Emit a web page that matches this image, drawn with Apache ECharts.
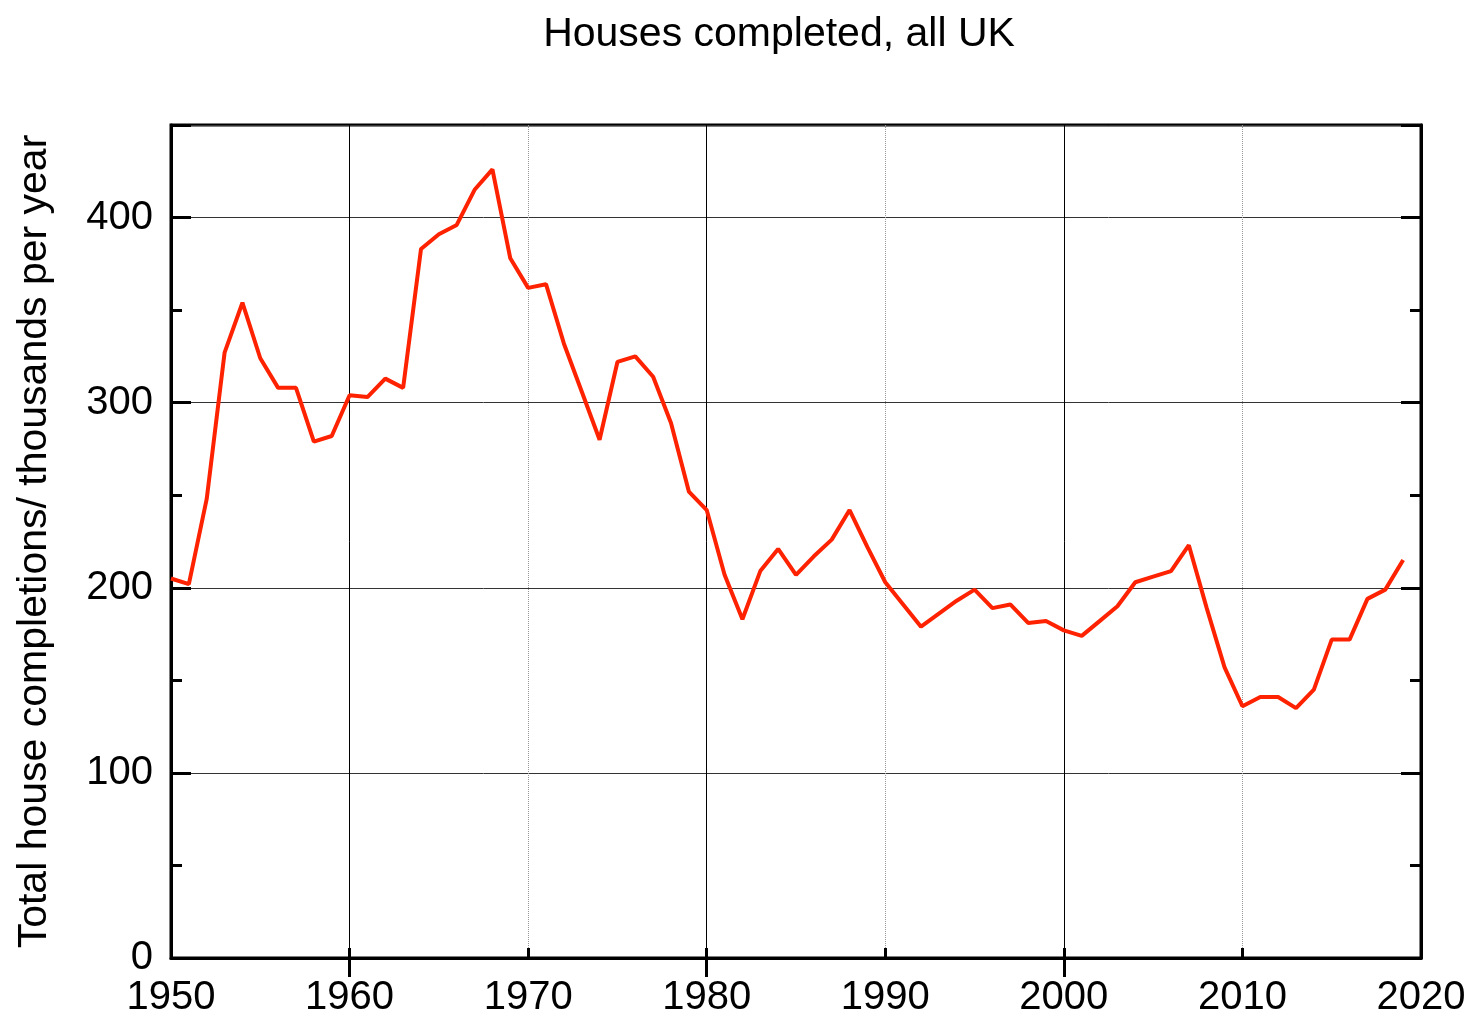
<!DOCTYPE html>
<html>
<head>
<meta charset="utf-8">
<script src="https://cdn.jsdelivr.net/npm/echarts@6/dist/echarts.min.js"></script>
<style>
  html, body { margin: 0; padding: 0; background: #fff; }
  #chart { width: 1473px; height: 1025px; }
</style>
</head>
<body>
<div id="chart"></div>
<script>
// completion year
const years = [
  1950, 1951, 1952, 1953, 1954, 1955, 1956, 1957, 1958, 1959,
  1960, 1961, 1962, 1963, 1964, 1965, 1966, 1967, 1968, 1969,
  1970, 1971, 1972, 1973, 1974, 1975, 1976, 1977, 1978, 1979,
  1980, 1981, 1982, 1983, 1984, 1985, 1986, 1987, 1988, 1989,
  1990, 1991, 1992, 1993, 1994, 1995, 1996, 1997, 1998, 1999,
  2000, 2001, 2002, 2003, 2004, 2005, 2006, 2007, 2008, 2009,
  2010, 2011, 2012, 2013, 2014, 2015, 2016, 2017, 2018, 2019
]
// houses completed, thousands
const completions = [
  205, 202, 248, 327, 354, 324, 308, 308, 279, 282,
  304, 303, 313, 308, 383, 391, 396, 415, 426, 378,
  362, 364, 332, 306, 280, 322, 325, 314, 289, 252,
  242, 207, 183, 209, 221, 207, 217, 226, 242, 222,
  203, 191, 179, 186, 193, 199, 189, 191, 181, 182,
  177, 174, 182, 190, 203, 206, 209, 223, 189, 157,
  136, 141, 141, 135, 145, 172, 172, 194, 199, 215
]
// x positions that get a long tick and a solid grid line
const majorYears = [1960, 1980, 2000]

const FONT = '"Liberation Sans", Arial, Helvetica, sans-serif'

const chart = echarts.init(document.getElementById('chart'))

const option = {
  animation: false,
  backgroundColor: '#fff',
  title: {
    text: 'Houses completed, all UK',
    left: 774,
    top: 9,
    textAlign: 'center',
    textStyle: { fontFamily: FONT, fontSize: 41, fontWeight: 'normal', color: '#000' }
  },
  grid: {
    left: 171, right: 52, top: 125, bottom: 67,
    show: true,
    borderColor: '#000',
    borderWidth: 3,
    backgroundColor: 'transparent'
  },
  xAxis: [
    {
      type: 'value',
      min: 1950, max: 2020, interval: 10,
      axisLine: { show: true, lineStyle: { color: '#000', width: 3 } },
      axisTick: { show: true, inside: true, length: 10, lineStyle: { color: '#000', width: 3 } },
      axisLabel: { margin: 20, fontFamily: FONT, fontSize: 40, color: '#000',
        formatter: v => String(v) },
      splitLine: { show: true, lineStyle: { color: '#999', width: 1, type: 'dotted' } }
    },
    {
      // second axis only for the long ticks and solid lines
      type: 'value',
      min: 1950, max: 2020,
      axisLine: { show: false },
      axisTick: { show: true, inside: true, length: 19, customValues: majorYears,
        lineStyle: { color: '#000', width: 3 } },
      axisLabel: { show: false },
      splitLine: { show: true, lineStyle: { color: '#000', width: 1 } }
    }
  ],
  yAxis: [
    {
      type: 'value',
      min: 0, max: 450, interval: 100,
      name: 'Total house completions/ thousands per year',
      nameLocation: 'middle',
      nameGap: 116,
      nameTextStyle: { fontFamily: FONT, fontSize: 41, color: '#000' },
      axisLine: { show: true, lineStyle: { color: '#000', width: 3 } },
      axisTick: { show: true, inside: true, length: 20, lineStyle: { color: '#000', width: 3 } },
      minorTick: { show: true, splitNumber: 2, length: 11, lineStyle: { color: '#000', width: 3 } },
      axisLabel: { margin: 18, fontFamily: FONT, fontSize: 40, color: '#000',
        showMaxLabel: false, formatter: v => (v > 400 ? '' : String(v)) },
      splitLine: { show: true, lineStyle: { color: '#333', width: 1 } }
    },
    {
      type: 'value',
      position: 'right',
      min: 0, max: 450, interval: 100,
      axisLine: { show: true, lineStyle: { color: '#000', width: 3 } },
      axisTick: { show: true, inside: true, length: 20, lineStyle: { color: '#000', width: 3 } },
      minorTick: { show: true, splitNumber: 2, length: 11, lineStyle: { color: '#000', width: 3 } },
      axisLabel: { show: false },
      splitLine: { show: false }
    }
  ],
  series: [
    {
      type: 'line',
      data: years.map((y, i) => [y, completions[i]]),
      showSymbol: false,
      lineStyle: { color: '#ff2200', width: 4 },
      z: 5
    }
  ]
}

chart.setOption(option)
</script>
</body>
</html>
